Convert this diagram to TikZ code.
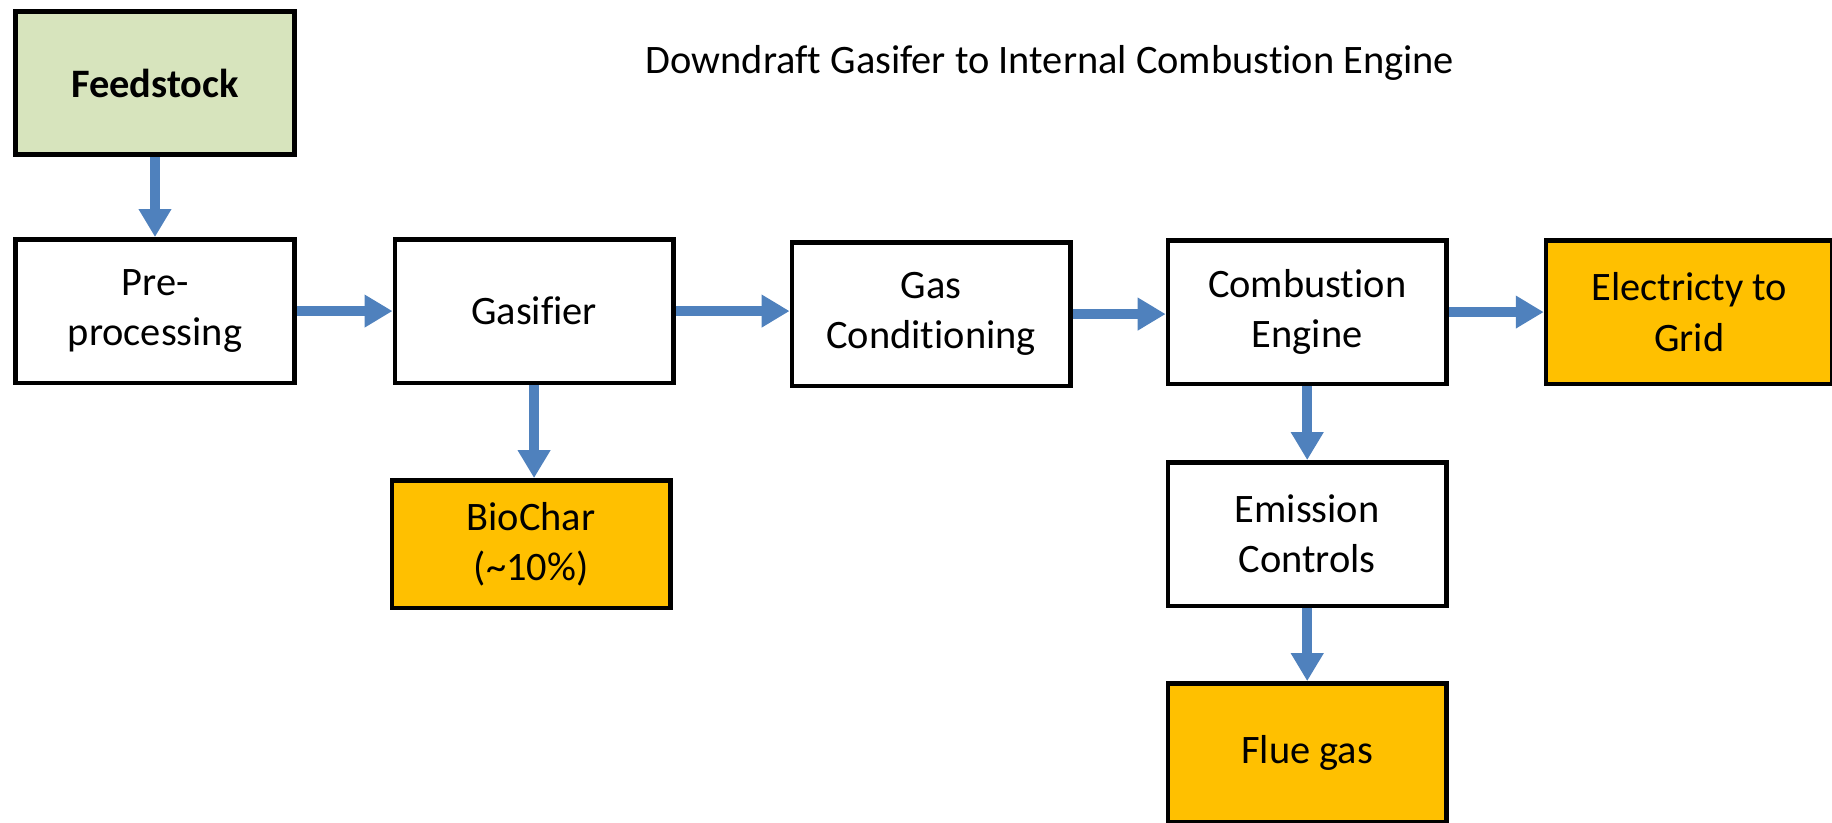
\documentclass[tikz,border=0pt]{standalone}
\usepackage{fontspec}
\setmainfont{Carlito}[Ligatures=CommonOff]
\usepackage{tikz}
\usetikzlibrary{positioning,arrows.meta}
\definecolor{flowblue}{HTML}{4F81BD}
\definecolor{feedgreen}{HTML}{D7E4BD}
\definecolor{outorange}{HTML}{FFC000}

\begin{document}
\begin{tikzpicture}[box/.style={draw, line width=2.6pt, minimum width=5.57cm, minimum height=2.87cm, align=center, inner sep=0pt, font=\fontsize{23}{28.5}\selectfont},
  product/.style={box, fill=outorange},
  flow/.style={draw=flowblue, line width=5.5pt, -{Triangle[length=0.56cm, width=0.62cm]}}] %
    \useasboundingbox (0,0) rectangle (36.64,-16.46); %
    \node[box, fill=feedgreen, font=\fontsize{23}{28.5}\selectfont\bfseries] (feed) at (3.1,-1.66) {Feedstock} ; %
    \node[box, below=1.6cm of feed] (pre) {Pre-\\processing} ; %
    \node[box, right=1.92cm of pre] (gasifier) {Gasifier} ; %
    \node[product, below=1.86cm of gasifier, xshift=-0.06cm, minimum height=2.55cm] (biochar) {BioChar\\(\char`~10\%)} ; %
    \node[box, right=2.28cm of gasifier, yshift=-0.06cm] (cond) {Gas\\Conditioning} ; %
    \node[box, right=1.86cm of cond, yshift=0.04cm] (engine) {Combustion\\Engine} ;
    \node[product, right=1.9cm of engine, minimum width=5.73cm] (grid) {Electricty to\\Grid} ;
    \node[box, below=1.48cm of engine] (emission) {Emission\\Controls} ;
    \node[product, below=1.46cm of emission, minimum height=2.77cm] (flue) {Flue gas} ;
    \node[font=\fontsize{23}{28}\selectfont] (title) at (21.0,-1.26) {Downdraft Gasifer to Internal Combustion Engine} ;
    \draw[flow] (feed)--(pre) ; %
    \draw[flow] (pre)--(gasifier) ;
    \draw[flow] (gasifier.south)--(gasifier.south |- biochar.north) ;
    \draw[flow] (gasifier.east)--(gasifier.east -| cond.west) ;
    \draw[flow] (cond.east)--(cond.east -| engine.west) ;
    \draw[flow] (engine)--(grid) ;
    \draw[flow] (engine)--(emission) ;
    \draw[flow] (emission)--(flue) ;
  \end{tikzpicture}
\end{document}
